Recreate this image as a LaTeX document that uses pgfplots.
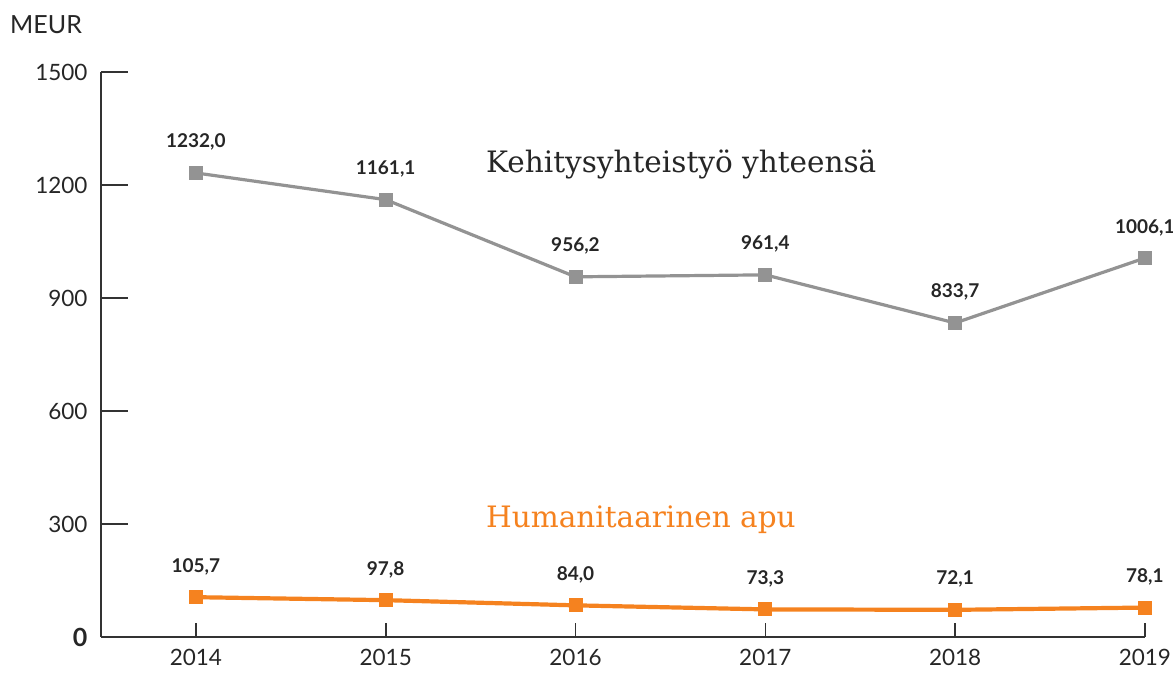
\documentclass[border=0pt]{standalone}
\usepackage{fontspec}
\setmainfont{Lato}
\newfontfamily\slab{DejaVu Serif}
\usepackage{pgfplots}
\usepackage{pgfplotstable}
\pgfplotsset{compat=1.18}
\definecolor{kgray}{HTML}{939393}
\definecolor{korange}{HTML}{F5821F}
\definecolor{axcol}{HTML}{333333}
\pgfplotstableread{
x y lab
2014 1232.0 1232,0
2015 1161.1 1161,1
2016 956.2 956,2
2017 961.4 961,4
2018 833.7 833,7
2019 1006.1 1006,1
}\kehitys
\pgfplotstableread{
x y lab
2014 105.7 105,7
2015 97.8 97,8
2016 84.0 84,0
2017 73.3 73,3
2018 72.1 72,1
2019 78.1 78,1
}\huma
\begin{document}
\begin{tikzpicture}
\useasboundingbox (-101pt,-43pt) rectangle (1072pt,637pt);
\begin{axis}[
  at={(0pt,0pt)}, anchor=south west,
  scale only axis, width=1044pt, height=565pt,
  xmin=2013.5, xmax=2019, ymin=0, ymax=1500,
  axis lines*=left,
  axis line style={axcol, line width=1.6pt},
  tick align=inside,
  major tick length=27pt,
  xtick=\empty, ytick={0,300,600,900,1200,1500}, yticklabels={},
  y tick style={axcol, line width=1.6pt},
]
\end{axis}
\begin{axis}[
  at={(0pt,0pt)}, anchor=south west,
  scale only axis, width=1044pt, height=565pt,
  xmin=2013.5, xmax=2019, ymin=0, ymax=1500,
  axis lines*=left,
  axis line style={axcol, line width=1.6pt},
  tick align=inside,
  major tick length=14pt,
  xtick={2014,2015,2016,2017,2018,2019},
  xticklabels={2014,2015,2016,2017,2018,2019},
  ytick={0,300,600,900,1200,1500},
  yticklabels={{\fontsize{25}{29}\selectfont\bfseries 0},300,600,900,1200,1500},
  x tick style={axcol, line width=1.6pt},
  y tick style={draw=none},
  /pgf/number format/assume math mode=true,
  tick label style={font=\fontsize{22.5}{26}\selectfont, text=black!85},
  yticklabel style={xshift=-10pt},
  xticklabel style={yshift=-9pt},
  clip=false,
  nodes near coords,
  point meta=explicit symbolic,
  every node near coord/.append style={font=\fontsize{19}{22}\selectfont\bfseries, text=black!85, yshift=19pt},
]
\addplot[kgray, line width=3.2pt, mark=square*, mark size=6.5pt, mark options={fill=kgray, draw=kgray, line width=0pt}]
  table[x=x, y=y, meta=lab]{\kehitys};
\addplot[korange, line width=4.2pt, mark=square*, mark size=6.5pt, mark options={fill=korange, draw=korange, line width=0pt}]
  table[x=x, y=y, meta=lab]{\huma};
\node[anchor=west, font=\slab\fontsize{29.5}{34}\selectfont, text=black!85, inner sep=0pt] at (axis cs:2015.528,1255) {Kehitysyhteistyö yhteensä};
\node[anchor=west, font=\slab\fontsize{29.5}{34}\selectfont, text=korange, inner sep=0pt] at (axis cs:2015.528,311) {Humanitaarinen apu};
\end{axis}
\node[anchor=north west, font=\fontsize{25}{30}\selectfont, text=black!85, inner sep=0pt] at (-91pt,622pt) {MEUR};
\end{tikzpicture}
\end{document}
